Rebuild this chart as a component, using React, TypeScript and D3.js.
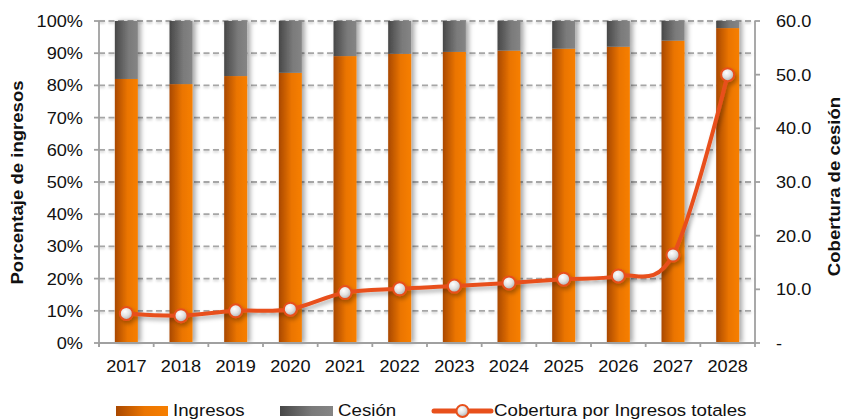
import React from "react";
import * as d3 from "d3";

const years = ["2017","2018","2019","2020","2021","2022","2023","2024","2025","2026","2027","2028"];
const ingresos = [82.0, 80.4, 82.9, 83.9, 89.1, 89.8, 90.4, 90.8, 91.4, 92.0, 93.9, 97.8];
const cesion = [18.0, 19.6, 17.1, 16.1, 10.9, 10.2, 9.6, 9.2, 8.6, 8.0, 6.1, 2.2];
const cobertura = [5.5, 5.1, 6.0, 6.3, 9.4, 10.1, 10.6, 11.2, 11.9, 12.5, 16.4, 50.0];
const leftTicks = [0, 10, 20, 30, 40, 50, 60, 70, 80, 90, 100];
const rightTicks = [0, 10, 20, 30, 40, 50, 60];

const W = 844, H = 419;
const L = 99, R = 755, T = 21, B = 343;
const FONT = "'Liberation Sans', Arial, sans-serif";
const LINE = "#e8501c";
const AXIS = "#a0a0a0";
const SX = 1.1;

function ST(props: { x: number; y: number; anchor?: string; dy?: string; children: React.ReactNode; rot?: boolean; sx?: number; size?: number; bold?: boolean }) {
  const sx = props.sx ?? SX;
  const tr = `translate(${props.x},${props.y})${props.rot ? " rotate(-90)" : ""} scale(${sx},1)`;
  return (
    <text transform={tr} textAnchor={props.anchor || "start"} dy={props.dy} fontSize={props.size} fontWeight={props.bold ? "bold" : undefined}>
      {props.children}
    </text>
  );
}

export default function App() {
  const x = d3.scaleBand<string>().domain(years).range([L, R]).paddingInner(0).paddingOuter(0);
  const yL = d3.scaleLinear().domain([0, 100]).range([B, T]);
  const yR = d3.scaleLinear().domain([0, 60]).range([B, T]);
  const bw = 23;
  const cx = (y: string) => (x(y) as number) + x.bandwidth() / 2;

  const line = d3.line<number>()
    .x((_, i) => cx(years[i]))
    .y((d) => yR(d))
    .curve(d3.curveCardinal.tension(0));

  return (
    <svg width={W} height={H} style={{ position: "absolute", left: 0, top: 0, background: "#fff" }} fontFamily={FONT}>
      <defs>
        <linearGradient id="gOr" x1="0" x2="1" y1="0" y2="0">
          <stop offset="0" stopColor="#a94800" />
          <stop offset="0.55" stopColor="#eb7500" />
          <stop offset="1" stopColor="#f77f00" />
        </linearGradient>
        <linearGradient id="gGr" x1="0" x2="1" y1="0" y2="0">
          <stop offset="0" stopColor="#474747" />
          <stop offset="0.6" stopColor="#7a7a7a" />
          <stop offset="1" stopColor="#858585" />
        </linearGradient>
        <radialGradient id="gMk" cx="0.4" cy="0.35" r="0.7">
          <stop offset="0" stopColor="#ffffff" />
          <stop offset="0.5" stopColor="#e2e2e2" />
          <stop offset="1" stopColor="#a8a8a8" />
        </radialGradient>
        <filter id="sh" x="-50%" y="-10%" width="200%" height="120%">
          <feDropShadow dx="3" dy="0" stdDeviation="2.5" floodColor="#000" floodOpacity="0.35" />
        </filter>
        <filter id="shL" x="-10%" y="-10%" width="120%" height="130%">
          <feDropShadow dx="2" dy="3" stdDeviation="2" floodColor="#000" floodOpacity="0.3" />
        </filter>
        <filter id="shG" x="-5%" y="-100%" width="110%" height="300%">
          <feDropShadow dx="0" dy="1.5" stdDeviation="1" floodColor="#000" floodOpacity="0.2" />
        </filter>
      </defs>

      {/* gridlines */}
      <g filter="url(#shG)">
        {leftTicks.filter((t) => t > 0).map((t) => (
          <line key={t} x1={L} x2={R} y1={yL(t)} y2={yL(t)} stroke="#a6a6a6" strokeWidth={1.8} strokeDasharray="6,3.5" />
        ))}
      </g>

      {/* bars */}
      <g filter="url(#sh)">
        {years.map((y, i) => (
          <g key={y}>
            <rect x={cx(y) - bw / 2} y={yL(ingresos[i])} width={bw} height={B - yL(ingresos[i])} fill="url(#gOr)" />
            <rect x={cx(y) - bw / 2} y={yL(ingresos[i] + cesion[i])} width={bw} height={yL(ingresos[i]) - yL(ingresos[i] + cesion[i])} fill="url(#gGr)" />
          </g>
        ))}
      </g>

      {/* axes */}
      <g stroke={AXIS} strokeWidth={1.8} fill="none">
        <line x1={L} x2={L} y1={T} y2={B + 4} />
        <line x1={R} x2={R} y1={T} y2={B + 4} />
        <line x1={L} x2={R} y1={B} y2={B} />
        {leftTicks.map((t) => (
          <line key={"lt" + t} x1={L - 5} x2={L} y1={yL(t)} y2={yL(t)} />
        ))}
        {rightTicks.map((t) => (
          <line key={"rt" + t} x1={R} x2={R + 5} y1={yR(t)} y2={yR(t)} />
        ))}
        {years.map((y) => (
          <line key={"xt" + y} x1={x(y) as number} x2={x(y) as number} y1={B} y2={B + 4} />
        ))}
      </g>

      {/* tick labels */}
      <g fontSize={16.5} fill="#111">
        {leftTicks.map((t) => (
          <ST key={"ll" + t} x={83} y={yL(t)} dy="0.36em" anchor="end">{t + "%"}</ST>
        ))}
        {rightTicks.map((t) => (
          <ST key={"rl" + t} x={776} y={yR(t)} dy="0.36em" anchor="start">{t === 0 ? "-" : t.toFixed(1)}</ST>
        ))}
        {years.map((y) => (
          <ST key={"xl" + y} x={cx(y)} y={372} anchor="middle">{y}</ST>
        ))}
      </g>

      {/* axis titles */}
      <g fill="#111">
        <ST x={23} y={182.5} rot anchor="middle" size={16} bold sx={1.16}>Porcentaje de ingresos</ST>
        <ST x={840} y={186.5} rot anchor="middle" size={16} bold sx={1.16}>Cobertura de cesión</ST>
      </g>

      {/* line */}
      <g filter="url(#shL)">
        <path d={line(cobertura) || ""} fill="none" stroke={LINE} strokeWidth={4} strokeLinejoin="round" />
        {cobertura.map((v, i) => (
          <circle key={"m" + i} cx={cx(years[i])} cy={yR(v)} r={6.5} fill="url(#gMk)" stroke={LINE} strokeWidth={2} />
        ))}
      </g>

      {/* legend */}
      <g fontSize={17} fill="#111">
        <rect x={116} y={406} width={52} height={10} fill="url(#gOr)" />
        <ST x={173} y={416}>Ingresos</ST>
        <rect x={280} y={406} width={53} height={10} fill="url(#gGr)" />
        <ST x={338} y={416}>Cesión</ST>
        <line x1={434} x2={491} y1={411} y2={411} stroke={LINE} strokeWidth={5} strokeLinecap="round" />
        <circle cx={462.5} cy={411} r={6} fill="url(#gMk)" stroke={LINE} strokeWidth={2} />
        <ST x={494} y={416}>Cobertura por Ingresos totales</ST>
      </g>
    </svg>
  );
}
